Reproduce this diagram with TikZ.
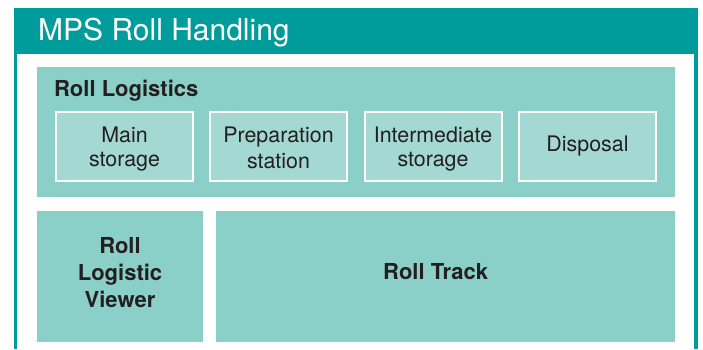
\documentclass[tikz,border=0pt]{standalone}
\usepackage{fontspec}
\setmainfont{TeX Gyre Heros}
\definecolor{teal1}{HTML}{009B9B}
\definecolor{panel}{HTML}{8AD0C8}
\definecolor{subbox}{HTML}{A3D9D2}
\definecolor{ink}{HTML}{231F20}
\newcommand{\lnstrut}{\rule[-2pt]{0pt}{22pt}}
\tikzset{
  panelbox/.style={fill=panel, draw=none, inner sep=0pt, outer sep=0pt},
  subitem/.style={fill=subbox, draw=white, line width=2pt, minimum width=137pt, minimum height=69pt,
    inner sep=0pt, align=center, text=ink, font=\fontsize{21.4}{24}\selectfont},
  boldlabel/.style={text=ink, inner sep=0pt, font=\bfseries\fontsize{22}{27}\selectfont},
}
\begin{document}
\begin{tikzpicture}[x=1pt,y=-1pt]
\useasboundingbox (0,0) rectangle (703,349);
% outer frame
\node[fill=teal1, inner sep=0pt, minimum width=684pt, minimum height=46pt] (header) at (356,31) {};
\fill[teal1] (14,54) rectangle (17,349);
\fill[teal1] (694,54) rectangle (698,349);
\node[anchor=base west, text=white, inner sep=0pt, font=\fontsize{30}{33}\selectfont] (title) at (38,40) {MPS Roll Handling};
% roll logistics panel
\node[panelbox, minimum width=638pt, minimum height=130pt] (logistics) at (356,132) {};
\node[boldlabel, anchor=base west] (logtitle) at (54,96) {Roll Logistics};
\node[subitem] (main) at (124.5,146.5) {Main\lnstrut\\storage\lnstrut};
\node[subitem] (prep) at (278.5,146.5) {Preparation\lnstrut\\station\lnstrut};
\node[subitem] (inter) at (433,146.5) {Intermediate\lnstrut\\storage\lnstrut};
\node[subitem] (disp) at (587.5,146.5) {Disposal};
% bottom panels
\node[panelbox, minimum width=166pt, minimum height=131pt] (viewer) at (120,276.5) {};
\node[boldlabel, align=center] (viewertext) at (120,273) {Roll\\Logistic\\Viewer};
\node[panelbox, minimum width=459pt, minimum height=131pt] (track) at (445.5,276.5) {};
\node[boldlabel, anchor=base west] (tracktext) at (383,279) {Roll Track};
\end{tikzpicture}
\end{document}
